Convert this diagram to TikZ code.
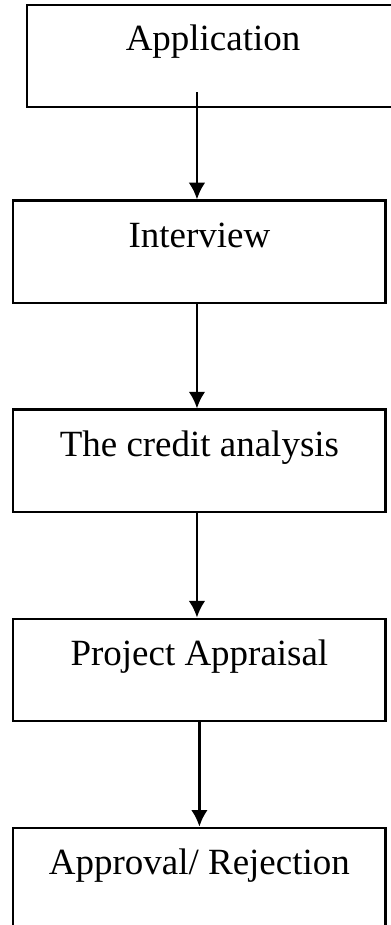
\documentclass[tikz,border=0pt]{standalone}
\usepackage{fontspec}
\setmainfont{Liberation Serif}
\usepackage{tikz}
\usetikzlibrary{arrows.meta}
\tikzset{%
  >={Latex[width=5.5pt,length=5.5pt]},
            base/.style = {rectangle, draw=black, line width=0.7pt,
                           minimum width=122.8pt, inner ysep=0pt,
                           text height=15.5pt, text depth=18.2pt,
                           text centered, font=\fontsize{12.2}{14}\selectfont},
  stage/.style = {base, fill=white, align=center},
  flow/.style  = {->, line width=0.9pt},
}
\begin{document}
\begin{tikzpicture}[node distance=69pt, align=center]
  \useasboundingbox (0,0) rectangle (128.7pt,-305.25pt);

  \node (onApp)   [stage, text height=14.9pt, text depth=18.8pt] at (70.3pt,-18.5pt) {Application};
  \node (onInt)   [stage, below of=onApp, xshift=-4.5pt, yshift=4.5pt] {Interview};
  \node (onCred)  [stage, below of=onInt]  {The credit analysis};
  \node (onProj)  [stage, below of=onCred] {Project Appraisal};
  \node (onAppr)  [stage, below of=onProj] {Approval/ Rejection};

  \coordinate (appOut) at (65pt,-30.4pt);

  \draw[flow] (appOut) -- (appOut |- onInt.north);
  \draw[flow] (onInt.south -| appOut) -- (onCred.north -| appOut);
  \draw[flow] (onCred.south -| appOut) -- (onProj.north -| appOut);
  \draw[flow] (onProj) -- (onAppr);
\end{tikzpicture}
\end{document}
